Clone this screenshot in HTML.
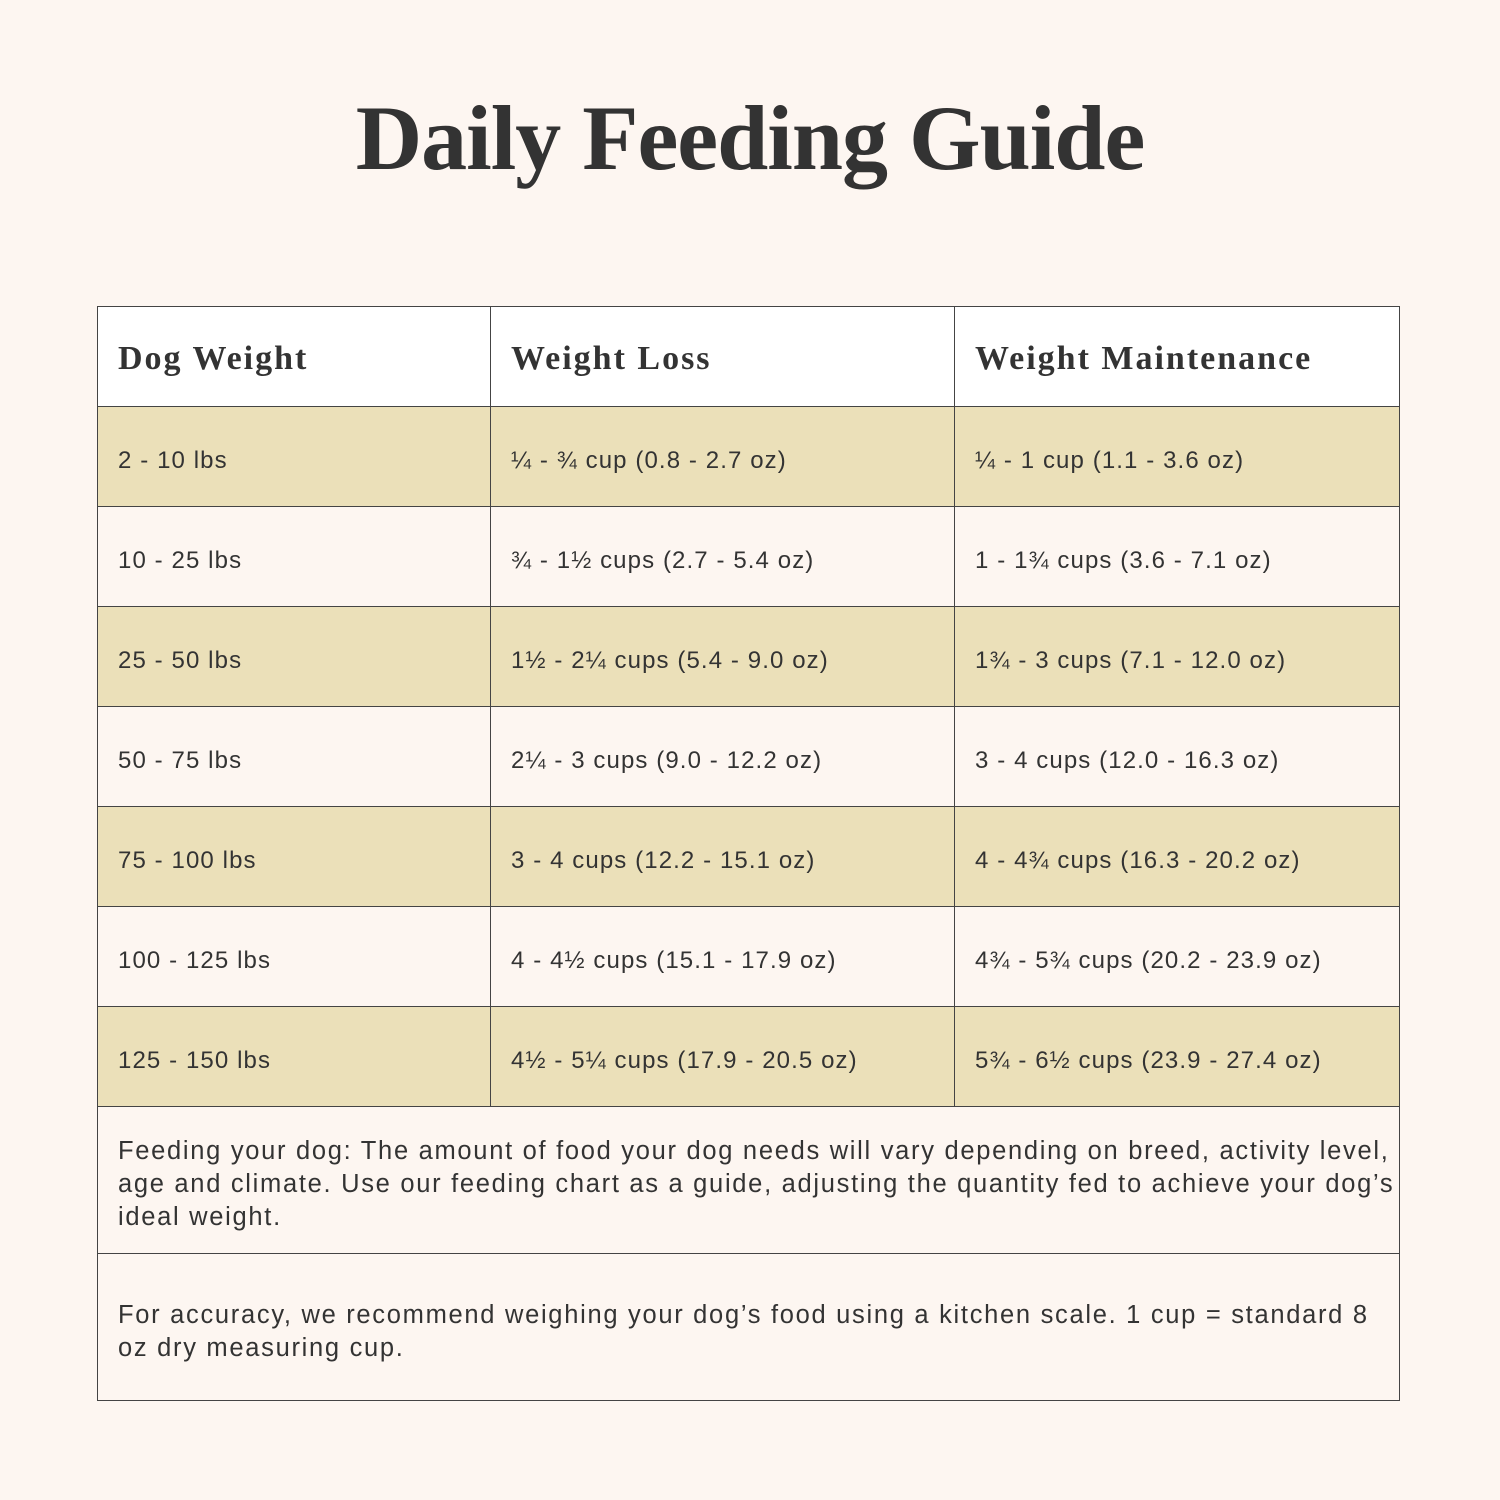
<!DOCTYPE html>
<html><head><meta charset="utf-8"><style>
html,body{margin:0;padding:0}
body{width:1500px;height:1500px;background:#fdf6f1;position:relative;overflow:hidden;color:#333;font-family:"Liberation Sans",sans-serif}
h1{position:absolute;top:88px;left:0;width:1500px;text-align:center;margin:0;font-family:"Liberation Serif",serif;font-weight:bold;font-size:92px;letter-spacing:-1px;color:#333;line-height:100px}
.t{position:absolute;left:97px;top:306px;width:1303px;height:1095px;border:1.5px solid #444;box-sizing:border-box}
.row{position:absolute;left:0;width:100%;height:100px;border-bottom:1.5px solid #444;box-sizing:border-box}
.y{background:#ebe0b9}
.c{position:absolute;top:0;height:100%;display:flex;align-items:center;font-size:24px;letter-spacing:1.1px;padding-left:20px;padding-top:8px;box-sizing:border-box}
.c1{left:0;width:393px;border-right:1.5px solid #444}
.c2{left:393px;width:464px;border-right:1.5px solid #444}
.c3{left:857px;width:446px}
.h .c{font-family:"Liberation Serif",serif;font-weight:bold;font-size:34px;letter-spacing:2px;padding-top:4px}
.note{position:absolute;left:0;width:100%;font-size:25.5px;letter-spacing:1.7px;line-height:33px;padding:0 4px 0 20px;box-sizing:border-box}
</style></head><body>
<h1>Daily Feeding Guide</h1>
<div class="t">
<div class="row h" style="top:0;background:#fff"><div class="c c1">Dog Weight</div><div class="c c2">Weight Loss</div><div class="c c3">Weight Maintenance</div></div>
<div class="row y" style="top:100px"><div class="c c1">2 - 10 lbs</div><div class="c c2">¼ - ¾ cup (0.8 - 2.7 oz)</div><div class="c c3">¼ - 1 cup (1.1 - 3.6 oz)</div></div>
<div class="row" style="top:200px"><div class="c c1">10 - 25 lbs</div><div class="c c2">¾ - 1½ cups (2.7 - 5.4 oz)</div><div class="c c3">1 - 1¾ cups (3.6 - 7.1 oz)</div></div>
<div class="row y" style="top:300px"><div class="c c1">25 - 50 lbs</div><div class="c c2">1½ - 2¼ cups (5.4 - 9.0 oz)</div><div class="c c3">1¾ - 3 cups (7.1 - 12.0 oz)</div></div>
<div class="row" style="top:400px"><div class="c c1">50 - 75 lbs</div><div class="c c2">2¼ - 3 cups (9.0 - 12.2 oz)</div><div class="c c3">3 - 4 cups (12.0 - 16.3 oz)</div></div>
<div class="row y" style="top:500px"><div class="c c1">75 - 100 lbs</div><div class="c c2">3 - 4 cups (12.2 - 15.1 oz)</div><div class="c c3">4 - 4¾ cups (16.3 - 20.2 oz)</div></div>
<div class="row" style="top:600px"><div class="c c1">100 - 125 lbs</div><div class="c c2">4 - 4½ cups (15.1 - 17.9 oz)</div><div class="c c3">4¾ - 5¾ cups (20.2 - 23.9 oz)</div></div>
<div class="row y" style="top:700px"><div class="c c1">125 - 150 lbs</div><div class="c c2">4½ - 5¼ cups (17.9 - 20.5 oz)</div><div class="c c3">5¾ - 6½ cups (23.9 - 27.4 oz)</div></div>
<div class="note" style="top:828px">Feeding your dog: The amount of food your dog needs will vary depending on breed, activity level, age and climate. Use our feeding chart as a guide, adjusting the quantity fed to achieve your dog’s ideal weight.</div>
<div style="position:absolute;left:0;top:946px;width:100%;border-top:1.5px solid #444"></div>
<div class="note" style="top:992px">For accuracy, we recommend weighing your dog’s food using a kitchen scale. 1 cup = standard 8 oz dry measuring cup.</div>
</div>
</body></html>
